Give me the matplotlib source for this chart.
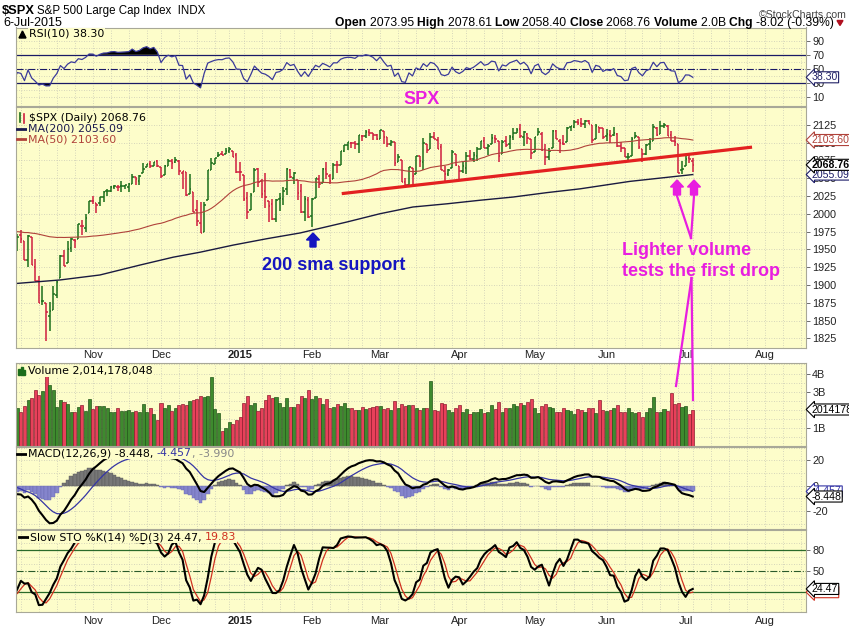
import numpy as np
import pandas as pd
import matplotlib
matplotlib.use('Agg')
import matplotlib.pyplot as plt
from matplotlib.patches import Polygon
from matplotlib.lines import Line2D

# ---------------- data ----------------
holidays = ['2014-11-27', '2014-12-25', '2015-01-01', '2015-01-19', '2015-02-16',
            '2015-04-03', '2015-05-25', '2015-07-03']

# warm-up closes (Jul 22 - Sep 30 2014) used only for indicators / MA50
warm_close = [1987.0, 1988.0, 1987.98, 1978.3, 1978.9, 1969.95, 1970.07, 1930.67,
              1925.15, 1938.99, 1920.21, 1920.24, 1909.57, 1931.59, 1936.92, 1933.75, 1946.72, 1955.18,
              1955.06, 1971.74, 1981.60, 1986.51, 1992.37, 1988.40, 1997.92, 2000.02, 2000.12, 1996.74, 2003.37,
              2002.28, 2000.72, 1997.65, 2007.71, 2001.54, 1988.44, 1995.69, 1997.45, 1985.54, 1984.13,
              1998.98, 2001.57, 2011.36, 2010.40, 1994.29, 1982.77, 1998.30, 1965.99, 1982.85, 1977.80, 1972.29]
warm_high_sep = [2006.1, 2009.3, 2011.2, 2007.7, 2007.2, 2001.6, 1996.7, 1997.7, 1996.7, 1986.4, 2002.3,
                 2010.7, 2012.3, 2019.3, 2009.1, 1993.4, 1999.8, 1997.3, 1986.4, 1978.6, 1985.2]
warm_low_sep = [1994.9, 1998.1, 1992.5, 1990.1, 1995.6, 1984.0, 1983.0, 1985.9, 1980.3, 1973.4, 1979.1,
                1993.3, 2003.4, 2006.6, 1991.0, 1982.8, 1978.6, 1966.0, 1966.2, 1964.1, 1968.0]

opens = [
 1971.4,1945.8,1948.0,1970.0,1962.4,1935.6,1967.7,1925.6,1905.7,1877.1,1874.2,1855.9,1864.9,1885.6,1909.4,1941.3,1931.0,1951.6,1962.9,1964.1,1983.3,1979.5,2001.2,
 2018.2,2015.8,2015.3,2023.3,2032.1,2032.0,2038.2,2037.8,2039.2,2039.7,2038.3,2041.5,2051.2,2045.9,2057.5,2065.1,2070.2,2067.4,2074.8,
 2065.8,2053.8,2067.0,2073.6,2072.8,2074.8,2056.6,2058.9,2027.9,2030.4,2005.0,1986.7,1973.8,2018.9,2061.0,2069.3,2081.5,2083.3,2084.3,2087.6,2088.5,2082.1,
 2058.9,2054.4,2022.2,2005.6,2030.6,2063.5,2046.1,2031.6,2018.4,2013.8,1992.3,2020.8,2020.2,2034.3,2062.0,2050.4,2047.9,2032.3,2002.5,2019.4,
 1996.7,2022.7,2048.9,2043.5,2062.3,2053.5,2049.4,2068.6,2069.0,2088.8,2096.5,2099.2,2099.3,2097.7,2109.8,2109.1,2115.3,2113.9,2110.9,
 2105.2,2115.8,2107.7,2098.5,2100.9,2072.3,2076.1,2044.7,2041.1,2064.6,2055.4,2080.6,2072.8,2098.7,2090.3,2108.0,2103.9,2093.1,2059.9,2055.8,2064.1,2084.1,
 2067.6,2060.0,2064.9,2080.8,2076.9,2081.3,2091.5,2102.0,2092.3,2097.8,2106.0,2102.6,2084.1,2102.8,2098.3,2107.2,2112.8,2119.3,2108.4,2112.5,2105.5,
 2087.4,2110.2,2112.6,2091.3,2080.0,2092.1,2115.6,2102.9,2099.6,2100.4,2122.1,2121.3,2129.5,2127.8,2125.6,2130.4,2125.3,2105.1,2122.3,2120.7,
 2108.6,2110.4,2110.6,2112.4,2095.1,2092.3,2079.1,2081.1,2106.2,2107.4,2091.3,2084.3,2097.4,2101.6,2121.1,2112.5,2123.2,2123.2,2110.0,2102.6,2098.6,2061.2,
 2067.0,2078.0,2073.95]
highs = [
 1971.4,1952.3,1971.2,1977.8,1962.4,1970.4,1967.7,1936.9,1912.1,1898.7,1874.2,1876.0,1898.2,1905.0,1942.5,1949.3,1961.9,1965.3,1964.6,1985.1,1991.4,1999.4,2018.2,
 2024.5,2015.8,2023.8,2031.6,2034.3,2038.7,2040.0,2040.3,2046.2,2041.1,2043.1,2056.1,2052.1,2053.8,2071.5,2070.2,2074.2,2073.3,2075.8,
 2065.8,2068.8,2076.3,2077.3,2079.5,2075.8,2060.6,2058.9,2055.5,2030.4,2018.7,2016.9,2016.8,2061.2,2077.9,2078.8,2086.7,2087.6,2092.7,2093.6,2088.5,2085.2,
 2072.4,2054.4,2030.3,2029.6,2064.1,2064.4,2049.3,2056.9,2018.4,2021.4,2020.5,2028.9,2038.3,2064.6,2062.9,2058.0,2047.9,2042.5,2024.6,2023.3,
 2021.7,2050.3,2054.7,2063.6,2072.4,2056.2,2070.9,2073.5,2088.5,2097.0,2101.3,2100.2,2102.1,2110.6,2110.1,2117.9,2119.6,2113.9,2112.7,
 2117.5,2115.8,2107.7,2104.3,2100.9,2083.5,2076.1,2050.1,2066.4,2064.6,2081.4,2080.6,2106.9,2098.7,2113.9,2114.9,2107.6,2097.4,2067.2,2062.8,2089.0,2084.1,
 2067.6,2072.2,2087.0,2089.8,2086.7,2093.3,2102.6,2107.6,2098.6,2111.9,2111.3,2102.6,2103.9,2109.6,2110.0,2120.5,2120.9,2125.9,2116.0,2113.7,2105.5,
 2108.4,2121.0,2115.2,2098.4,2092.9,2117.7,2117.7,2105.1,2110.2,2121.5,2123.9,2131.8,2133.0,2134.7,2131.8,2132.2,2125.3,2126.2,2122.3,2120.7,
 2119.2,2117.6,2121.9,2112.9,2101.0,2093.0,2085.6,2108.5,2115.0,2107.4,2091.3,2097.4,2106.8,2126.6,2121.6,2129.9,2128.0,2125.1,2116.0,2108.9,2098.6,2074.3,
 2082.8,2085.1,2078.61]
lows = [
 1941.7,1926.0,1948.0,1958.4,1935.1,1925.3,1927.6,1906.1,1874.1,1871.7,1820.7,1835.0,1864.9,1882.3,1909.4,1926.8,1931.0,1946.3,1951.4,1964.1,1970.6,1974.8,2001.2,
 2013.7,2001.0,2010.7,2015.9,2025.1,2030.2,2034.7,2031.3,2030.4,2035.2,2030.2,2041.5,2040.4,2040.5,2056.8,2065.1,2064.8,2066.6,2065.1,
 2049.6,2053.8,2066.6,2062.3,2070.8,2054.3,2034.2,2024.3,2027.9,2002.3,1982.3,1972.6,1973.8,2018.9,2061.0,2069.3,2079.5,2081.9,2084.3,2085.8,2079.5,2057.9,
 2046.0,2017.3,1992.4,2005.6,2030.6,2038.3,2022.6,2008.3,1988.4,1991.5,1988.1,2004.5,2012.0,2026.4,2050.5,2041.9,2019.9,2001.5,1989.2,1993.4,
 1980.9,2022.7,2036.7,2043.5,2049.3,2041.9,2048.6,2057.9,2069.0,2086.7,2089.8,2092.2,2090.8,2085.4,2102.5,2105.9,2109.9,2103.8,2103.8,
 2104.5,2098.3,2094.5,2095.2,2067.3,2072.2,2044.2,2039.7,2041.1,2041.2,2055.4,2065.1,2061.2,2085.6,2090.3,2104.4,2091.5,2061.1,2045.5,2053.0,2064.1,2067.0,
 2048.4,2057.3,2056.5,2076.1,2073.3,2074.3,2091.0,2092.0,2083.2,2097.8,2100.0,2072.4,2084.1,2094.4,2091.1,2103.2,2112.8,2107.0,2094.9,2097.4,2077.6,
 2087.4,2110.2,2088.5,2067.9,2075.0,2092.1,2104.6,2085.6,2096.0,2100.4,2116.8,2120.0,2124.5,2122.6,2120.9,2126.1,2099.2,2105.1,2112.9,2104.9,
 2102.5,2099.1,2109.6,2093.2,2087.0,2079.1,2072.1,2081.1,2106.2,2091.3,2072.5,2082.1,2088.9,2101.6,2109.5,2112.5,2119.9,2108.6,2101.8,2095.4,2056.6,2056.3,
 2067.0,2071.0,2058.40]
closes = [
 1946.2,1946.2,1967.9,1964.8,1935.1,1968.9,1928.2,1906.1,1874.7,1877.7,1862.5,1862.8,1886.8,1904.0,1941.3,1927.1,1950.8,1964.6,1961.6,1985.1,1982.3,1994.7,2018.1,
 2017.8,2012.1,2023.6,2031.2,2032.0,2038.3,2039.7,2038.3,2039.3,2039.8,2041.3,2051.8,2048.7,2052.8,2063.5,2069.4,2067.0,2072.8,2067.6,
 2053.4,2066.6,2074.3,2071.9,2075.4,2060.3,2059.8,2026.1,2035.3,2002.3,1989.6,1972.7,2012.9,2061.2,2070.7,2078.5,2082.2,2081.9,2088.8,2090.6,2080.4,2058.9,
 2058.2,2020.6,2002.6,2025.9,2062.1,2044.8,2028.3,2023.0,2011.3,1992.7,2019.4,2022.6,2032.1,2063.2,2051.8,2057.1,2029.6,2002.2,2021.3,1995.0,
 2020.9,2050.0,2041.5,2062.5,2055.5,2046.7,2068.6,2068.5,2088.5,2097.0,2100.3,2099.7,2097.5,2110.3,2109.7,2115.5,2113.9,2110.7,2104.5,
 2117.4,2107.8,2098.5,2101.0,2071.3,2079.4,2044.2,2040.2,2066.0,2053.4,2081.2,2074.3,2099.5,2089.3,2108.1,2104.4,2091.5,2061.1,2056.2,2061.0,2086.2,2067.9,
 2059.7,2067.0,2080.6,2076.3,2081.9,2091.2,2102.1,2092.4,2095.8,2106.6,2105.0,2081.2,2100.4,2097.3,2108.0,2112.9,2117.7,2108.9,2114.8,2106.9,2085.5,
 2108.3,2114.5,2089.5,2080.2,2088.0,2116.1,2105.3,2099.9,2098.5,2121.1,2122.7,2129.2,2127.8,2125.9,2130.8,2126.1,2104.2,2123.5,2120.8,2107.4,
 2111.7,2109.6,2114.1,2095.8,2092.8,2079.3,2080.2,2105.2,2108.9,2094.1,2084.4,2096.3,2100.4,2121.2,2110.0,2122.9,2124.2,2108.6,2102.3,2101.5,2057.6,2063.1,
 2077.4,2076.8,2068.76]
# volume in billions
volumes = [
 2.10,2.05,2.11,1.89,2.20,2.54,2.67,3.09,2.81,3.04,3.87,3.37,3.09,2.13,2.54,2.44,2.30,1.89,1.89,2.13,2.26,1.94,2.59,
 2.04,2.20,2.20,2.20,2.11,1.89,1.85,2.07,1.94,1.94,1.98,1.85,1.94,1.85,2.30,1.85,2.11,1.74,1.43,
 2.35,2.11,2.26,1.93,2.07,2.26,2.31,2.26,2.48,2.54,2.59,2.76,2.72,2.76,3.78,2.04,1.80,0.81,0.98,1.33,1.24,1.46,
 1.61,2.35,2.76,2.26,2.35,1.93,2.07,2.54,2.81,2.67,2.69,2.35,2.17,2.63,2.17,2.17,2.30,2.76,2.63,3.09,
 2.59,2.78,2.67,2.30,2.57,2.07,2.17,2.30,2.20,2.35,2.11,2.11,1.98,1.98,2.13,2.02,2.07,2.17,2.20,
 2.20,2.02,2.07,1.98,2.48,2.07,2.30,2.22,2.26,2.26,2.07,1.98,2.10,2.07,3.59,1.98,1.93,2.35,2.30,1.98,1.89,2.07,
 2.26,1.85,2.02,1.74,1.89,1.89,2.02,1.83,1.89,2.26,2.02,2.41,1.89,2.07,2.07,2.30,2.22,2.35,2.26,2.44,2.59,
 2.11,1.80,2.22,2.30,2.13,2.07,1.85,1.85,2.07,1.98,1.93,1.74,2.02,1.98,1.85,2.07,2.07,1.80,2.54,1.98,
 1.93,1.98,2.11,2.26,1.89,1.89,2.07,1.85,1.80,1.85,1.61,1.85,2.11,2.72,1.85,1.85,2.02,1.93,2.91,2.30,2.35,2.17,
 2.20,1.74,2.014]

# MA(200): (trading-day index, value)
ma200_idx = [1.6, 13.9, 25.0, 36.2, 45.4, 52.9, 62.1, 71.5, 80.7, 93.8, 102.9, 112.1, 121.6, 130.8, 140.0, 149.4, 158.6, 172.5, 190]
ma200_val = [1902, 1907, 1914, 1928, 1939, 1946, 1956, 1965, 1973, 1988.5, 2000, 2009.5, 2014, 2019, 2023.5, 2029.7, 2035, 2045.5, 2055.09]

# hand-drawn trend line (index, price)
trend_idx = [92.3, 206.5]
trend_val = [2028.3, 2093.6]

month_labels = ['Nov', 'Dec', '2015', 'Feb', 'Mar', 'Apr', 'May', 'Jun', 'Jul', 'Aug']

# ---------------- indicators ----------------
N = len(closes)
allc = pd.Series(warm_close + closes)
nw = len(warm_close)
allh = pd.Series([np.nan] * (nw - 21) + warm_high_sep + highs)
alll = pd.Series([np.nan] * (nw - 21) + warm_low_sep + lows)

ma50 = allc.rolling(50).mean().values[nw:]
d = allc.diff()
ag = d.clip(lower=0).ewm(alpha=1/10, adjust=False).mean()
al = (-d).clip(lower=0).ewm(alpha=1/10, adjust=False).mean()
rsi = (100 - 100 / (1 + ag / al)).values[nw:]
macd = allc.ewm(span=12, adjust=False).mean() - allc.ewm(span=26, adjust=False).mean()
sig = macd.ewm(span=9, adjust=False).mean()
hist = (macd - sig).values[nw:]
macd = macd.values[nw:]
sig = sig.values[nw:]
hh = allh.rolling(14).max()
ll = alll.rolling(14).min()
fk = 100 * (allc - ll) / (hh - ll)
sk = fk.rolling(3).mean()
sd = sk.rolling(3).mean()
sk = sk.values[nw:]
sd = sd.values[nw:]

x = np.arange(N)
o = np.array(opens); h = np.array(highs); l = np.array(lows); c = np.array(closes)
prev = np.concatenate([[warm_close[-1]], c[:-1]])
up = c >= prev

days = pd.bdate_range('2014-10-01', '2015-08-31')
days = days[~days.isin(pd.to_datetime(holidays))]
mstart = [i for i in range(1, len(days)) if days[i].month != days[i - 1].month]
wstart = [i for i in range(1, len(days)) if days[i].dayofweek < days[i - 1].dayofweek]

# ---------------- figure ----------------
W, H = 849, 627
fig = plt.figure(figsize=(W / 100, H / 100), dpi=100)
fig.patch.set_facecolor('white')
XL, XR = 15.5, 806
X0 = (XL - 10.1) / 3.593
X1 = (XR - 10.1) / 3.593
BG = '#fdfdca'
GRID = '#c9c9b5'
TICKF = 'Liberation Sans'
NARROW = ['Liberation Sans Narrow', 'Liberation Sans', 'DejaVu Sans']
LEGF = 'DejaVu Sans'
LEGS = 7.9
GREEN = '#1b6e1b'
RED = '#cf1f3f'


def fx(px):
    return px / W


def fy(py):
    return 1 - py / H


def panel(top, bot, ylim, yticks, ylabels, hgrid):
    ax = fig.add_axes([fx(XL), fy(bot), (XR - XL) / W, (bot - top) / H])
    ax.set_facecolor(BG)
    for s in ax.spines.values():
        s.set_color('#a8a898')
        s.set_linewidth(0.8)
    ax.set_xlim(X0, X1)
    ax.set_ylim(*ylim)
    ax.yaxis.tick_right()
    ax.set_yticks(yticks)
    ax.set_yticklabels(ylabels, fontsize=7.8, family=TICKF, color='#222222')
    ax.tick_params(axis='y', direction='out', length=3, width=0.6, colors='#555555', pad=1.5)
    ax.tick_params(axis='y', labelcolor='#222222')
    ax.tick_params(axis='x', length=0, labelbottom=False)
    ax.set_xticks([])
    for g in hgrid:
        ax.axhline(g, color=GRID, lw=0.6, ls=(0, (1, 2)), zorder=0)
    for i in wstart:
        ax.axvline(i, color=GRID, lw=0.6, ls=(0, (1, 2)), zorder=0)
    return ax


def vbox(ax, yval, text, ec, tc, bold=False):
    ax.annotate(text, xy=(1.0, yval), xycoords=('axes fraction', 'data'),
                xytext=(4.2, 0), textcoords='offset points', va='center', ha='left',
                fontsize=7.6, family=TICKF, color=tc, fontweight='bold' if bold else 'normal',
                bbox=dict(boxstyle='larrow,pad=0.05', fc='white', ec=ec, lw=0.8), annotation_clip=False,
                zorder=20)


def legend(ax, px, py, parts, lead=None):
    """Legend text pieces at figure pixel position (px = left, py = center)."""
    xx = px
    if lead is not None:
        fig.lines.append(Line2D([fx(xx), fx(xx + 9)], [fy(py), fy(py)], transform=fig.transFigure,
                                color=lead, lw=2.0, zorder=30))
        xx += 11
    for t, col in parts:
        tt = fig.text(fx(xx), fy(py), t, fontsize=LEGS, family=LEGF, color=col, va='center', ha='left',
                      zorder=30, bbox=dict(boxstyle='square,pad=0.08', fc=BG, ec='none'))
        xx += tt.get_window_extent(renderer=r).width


fig.canvas.draw()
r = fig.canvas.get_renderer()

# RSI panel
ax_r = panel(27.5, 105.5, (-1.5, 108.5), [10, 30, 50, 70, 90], ['10', '30', '50', '70', '90'],
             [10, 20, 40, 60, 80, 90])
ax_r.axhline(70, color='#1a1a66', lw=0.9)
ax_r.axhline(30, color='#1a1a66', lw=0.9)
ax_r.axhline(50, color='#1a1a66', lw=0.8, ls='-.')
ax_r.plot(x, rsi, color='#3a3a9a', lw=0.9)
ax_r.fill_between(x, rsi, 70, where=rsi > 70, color='black', interpolate=True, lw=0)
ax_r.fill_between(x, rsi, 30, where=rsi < 30, color='black', interpolate=True, lw=0)
fig.patches.append(Polygon([(fx(19), fy(38)), (fx(22.5), fy(31)), (fx(26), fy(38))], closed=True,
                           transform=fig.transFigure, color='black', zorder=30))
legend(ax_r, 29, 34, [('RSI(10) 38.30', 'black')])
vbox(ax_r, 38.3, '38.30', '#222266', '#222266')

# price panel
ax_p = panel(106.5, 348, (1811.4, 2150.7), [1825, 1850, 1875, 1900, 1925, 1950, 1975, 2000, 2025, 2050, 2075, 2100, 2125],
             ['1825', '1850', '1875', '1900', '1925', '1950', '1975', '2000', '2025', '2050', '2075', '2100', '2125'],
             list(range(1825, 2150, 25)))
colors = np.where(up, GREEN, RED)
ax_p.vlines(x, l, h, colors=colors, lw=1.1)
ax_p.hlines(o, x - 0.45, x, colors=colors, lw=1.1)
ax_p.hlines(c, x, x + 0.45, colors=colors, lw=1.1)
ax_p.plot(x, ma50, color='#b0423a', lw=0.8)
ax_p.plot(ma200_idx, ma200_val, color='#1a1a40', lw=1.0)
ax_p.plot(trend_idx, trend_val, color='#e32020', lw=2.3, solid_capstyle='butt')
fig.lines.append(Line2D([fx(20), fx(20)], [fy(113), fy(122)], transform=fig.transFigure, color=GREEN, lw=1.2))
fig.lines.append(Line2D([fx(24), fx(24)], [fy(114), fy(123)], transform=fig.transFigure, color=RED, lw=1.2))
legend(ax_p, 29, 118, [('$SPX (Daily) 2068.76', 'black')])
legend(ax_p, 17, 128.5, [('MA(200) 2055.09', '#1a1a50')], lead='#1a1a50')
legend(ax_p, 17, 139, [('MA(50) 2103.60', '#b0423a')], lead='#b0423a')
vbox(ax_p, 2103.6, '2103.60', '#b0423a', '#b0423a')
vbox(ax_p, 2055.09, '2055.09', '#1a1a66', '#1a1a66')
vbox(ax_p, 2068.76, '2068.76', 'black', 'black', bold=True)

# volume panel
ax_v = panel(363, 446, (0, 4.58), [1, 3, 4], ['1B', '3B', '4B'], [0.5, 1, 1.5, 2, 2.5, 3, 3.5, 4, 4.5])
vcol = np.where(up, '#3e8a2e', '#e8405a')
vedge = np.where(up, '#23561a', '#8e1d30')
ax_v.bar(x, volumes, width=0.85, color=vcol, edgecolor=vedge, lw=0.5)
for k, (xx0, hh0) in enumerate([(19, 6), (21.5, 8), (24, 5)]):
    fig.patches.append(Polygon([(fx(xx0 - 1), fy(375)), (fx(xx0 + 1), fy(375)), (fx(xx0 + 1), fy(375 - hh0)),
                                (fx(xx0 - 1), fy(375 - hh0))], closed=True, transform=fig.transFigure,
                               color=GREEN, zorder=30))
legend(ax_v, 28, 371, [('Volume 2,014,178,048', 'black')])
vbox(ax_v, 2.014, '2014178', 'black', 'black')

# MACD panel
ax_m = panel(447, 529, (-34, 30.5), [-20, 0, 20], ['-20', '0', '20'], [-30, -20, -10, 0, 10, 20, 30])
ax_m.bar(x, hist, width=1.0, color=np.where(hist >= 0, '#777777', '#8585cc'),
         edgecolor=np.where(hist >= 0, '#5a5a5a', '#6a6ab0'), lw=0.3)
ax_m.plot(x, sig, color='#3535a5', lw=0.9)
ax_m.plot(x, macd, color='black', lw=1.5)
legend(ax_m, 17, 453.5, [('MACD(12,26,9) -8.448, ', 'black'), ('-4.457', '#3535a5'), (', -3.990', '#888888')],
       lead='black')
vbox(ax_m, -4.457, '-4.457', '#3535a5', '#3535a5')
vbox(ax_m, -8.448, '-8.448', 'black', 'black')

# STO panel
ax_s = panel(530, 612, (-8.6, 109), [20, 50, 80], ['20', '50', '80'], [10, 20, 30, 40, 60, 70, 80, 90])
ax_s.axhline(80, color='#2a6a2a', lw=0.9)
ax_s.axhline(20, color='#2a6a2a', lw=0.9)
ax_s.axhline(50, color='#2a5a2a', lw=0.8, ls='-.')
ax_s.plot(x, sd, color='#d03020', lw=0.9)
ax_s.plot(x, sk, color='black', lw=1.5)
legend(ax_s, 19, 537, [('Slow STO %K(14) %D(3) 24.47, ', 'black'), ('19.83', '#d03020')], lead='black')
vbox(ax_s, 19.83, '19.83', '#d03020', '#d03020')
vbox(ax_s, 24.47, '24.47', 'black', 'black')


def seq(x0, y, parts, size, family):
    xx = x0
    for t, col, wt in parts:
        tt = fig.text(fx(xx), fy(y), t, fontsize=size, family=family, color=col, fontweight=wt,
                      va='center', ha='left')
        xx += tt.get_window_extent(renderer=r).width
    return xx


def fit(x0, y, parts, width, family, base=9.0):
    tmp = [fig.text(0, 0, t, fontsize=base, family=family, fontweight=wt) for t, _, wt in parts]
    ws = sum(t.get_window_extent(renderer=r).width for t in tmp)
    for t in tmp:
        t.remove()
    return seq(x0, y, parts, base * width / ws, family)


# month labels
for ax_row_y in (355.5, 621.5):
    for k, lab in zip(mstart, month_labels):
        px = 10.1 + 3.593 * k
        fig.text(fx(px), fy(ax_row_y), lab, fontsize=8, family=TICKF,
                 fontweight='bold' if lab == '2015' else 'normal', ha='center', va='center', color='#222222')

# header
fit(2, 10.5, [('$SPX', 'black', 'bold')], 33, NARROW)
fit(37, 11, [('S&P 500 Large Cap Index  INDX', 'black', 'normal')], 168, NARROW)
fit(3, 23, [('6-Jul-2015', 'black', 'normal')], 59, NARROW)
fig.text(fx(847), fy(15), '\u00a9StockCharts.com', fontsize=7.6, family=NARROW, color='#444444',
         ha='right', va='center')
parts = [('Open ', 'black', 'bold'), ('2073.95 ', 'black', 'normal'), ('High ', 'black', 'bold'),
         ('2078.61 ', 'black', 'normal'), ('Low ', 'black', 'bold'), ('2058.40 ', 'black', 'normal'),
         ('Close ', 'black', 'bold'), ('2068.76 ', 'black', 'normal'), ('Volume ', 'black', 'bold'),
         ('2.0B ', 'black', 'normal'), ('Chg ', 'black', 'bold'), ('-8.02 (-0.39%)', 'black', 'normal')]
end = fit(335, 23, parts, 498, NARROW)
fig.patches.append(Polygon([(fx(end + 3), fy(20.5)), (fx(end + 9), fy(20.5)), (fx(end + 6), fy(25.5))],
                           closed=True, transform=fig.transFigure, color='#b01020'))

# annotations
MAG = '#e81ee0'
BLUE = '#1515c0'
fig.text(fx(422), fy(99), 'SPX', fontsize=13, family='Liberation Sans', fontweight='bold', color=MAG,
         ha='center', va='center')
fig.text(fx(334), fy(265), '200 sma support', fontsize=13, family='Liberation Sans', fontweight='bold',
         color=BLUE, ha='center', va='center')
fig.text(fx(621.5), fy(250.5), 'Lighter volume', fontsize=13, family='Liberation Sans', fontweight='bold',
         color=MAG, ha='left', va='center')
fig.text(fx(621.5), fy(272), 'tests the first drop', fontsize=13, family='Liberation Sans', fontweight='bold',
         color=MAG, ha='left', va='center')


def up_arrow(cx, tip, bottom, hw, sw, hl, col):
    pts = [(cx, tip), (cx + hw, tip + hl), (cx + sw, tip + hl), (cx + sw, bottom), (cx - sw, bottom),
           (cx - sw, tip + hl), (cx - hw, tip + hl)]
    fig.patches.append(Polygon([(fx(a), fy(b)) for a, b in pts], closed=True, transform=fig.transFigure,
                               color=col, zorder=10))


up_arrow(313, 233, 247, 6.5, 3, 7, BLUE)
up_arrow(677, 180, 195, 6.5, 3.5, 7, MAG)
up_arrow(694, 180, 195, 6.5, 3.5, 7, MAG)
for (x1, y1, x2, y2) in [(691, 238, 677, 196), (691, 238, 694, 196), (691.5, 278, 676, 386), (691.5, 278, 693, 400)]:
    fig.lines.append(Line2D([fx(x1), fx(x2)], [fy(y1), fy(y2)], transform=fig.transFigure, color=MAG, lw=1.6,
                            zorder=10))

fig.savefig('out.png', dpi=100, facecolor='white')
